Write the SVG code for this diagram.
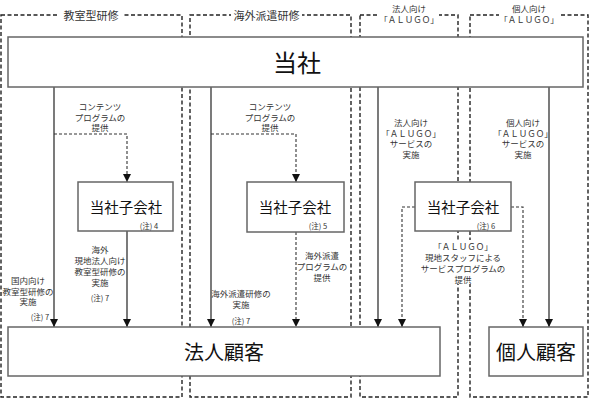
<svg xmlns="http://www.w3.org/2000/svg" width="589" height="399" viewBox="0 0 589 399">
<defs>
<marker id="ah" markerUnits="userSpaceOnUse" markerWidth="8" markerHeight="8" refX="8" refY="4" orient="auto">
<path d="M0,0 L8,4 L0,8 z" fill="#111"/>
</marker>
<style>
.frame{fill:none;stroke:#222;stroke-width:1.4;stroke-dasharray:4 2.5}
.box{fill:#fff;stroke:#666;stroke-width:1.5}
.sol{fill:none;stroke:#222;stroke-width:1.2}
.dsh{fill:none;stroke:#333;stroke-width:1.1;stroke-dasharray:3 2}
text{font-family:"Noto Sans CJK JP","Noto Sans",sans-serif;fill:#222;text-anchor:middle;dominant-baseline:central}
.s{font-size:8.5px;fill:#333}
.n{font-size:7.5px;fill:#333}
.h{font-size:11px;fill:#333}
.big{font-size:24px;fill:#111}
.mid{font-size:20px;fill:#111}
.sub{font-size:14.5px;fill:#111}
.bg{fill:#fff}
</style>
</defs>
<g id="frames">
<rect class="frame" x="1" y="15" width="181" height="382"/>
<rect class="frame" x="190" y="15" width="161" height="382"/>
<rect class="frame" x="360" y="15" width="98" height="382"/>
<rect class="frame" x="470" y="15" width="118" height="382"/>
<rect class="bg" x="58" y="8" width="66" height="14"/>
<text class="h" x="91" y="15">教室型研修</text>
<rect class="bg" x="231" y="8" width="71" height="14"/>
<text class="h" x="266.5" y="15">海外派遣研修</text>
<rect class="bg" x="379" y="1" width="60" height="24"/>
<text class="s" x="409" y="8">法人向け</text>
<text class="s" x="409" y="19">「ＡＬＵＧＯ」</text>
<rect class="bg" x="499" y="1" width="60" height="24"/>
<text class="s" x="529" y="8">個人向け</text>
<text class="s" x="529" y="19">「ＡＬＵＧＯ」</text>
</g>
<g id="connectors">
<line class="sol" x1="54" y1="87" x2="54" y2="327" marker-end="url(#ah)"/>
<path class="dsh" d="M54,134 H127 V182" marker-end="url(#ah)"/>
<line class="sol" x1="127" y1="231" x2="127" y2="327" marker-end="url(#ah)"/>
<line class="sol" x1="211" y1="87" x2="211" y2="327" marker-end="url(#ah)"/>
<path class="dsh" d="M211,134 H296 V182" marker-end="url(#ah)"/>
<line class="dsh" x1="296" y1="232" x2="296" y2="327" marker-end="url(#ah)"/>
<line class="sol" x1="378" y1="87" x2="378" y2="327" marker-end="url(#ah)"/>
<path class="dsh" d="M415,207 H402 V327" marker-end="url(#ah)"/>
<path class="dsh" d="M511,207 H523 V327" marker-end="url(#ah)"/>
<line class="sol" x1="549" y1="87" x2="549" y2="327" marker-end="url(#ah)"/>
</g>
<g id="labels">
<text class="s" x="100" y="106">コンテンツ</text>
<text class="s" x="100" y="116.5">プログラムの</text>
<text class="s" x="100" y="127">提供</text>
<text class="s" x="270" y="106">コンテンツ</text>
<text class="s" x="270" y="116.5">プログラムの</text>
<text class="s" x="270" y="127">提供</text>
<text class="s" x="411" y="122">法人向け</text>
<text class="s" x="411" y="132.5">「ＡＬＵＧＯ」</text>
<text class="s" x="411" y="143">サービスの</text>
<text class="s" x="411" y="153.5">実施</text>
<text class="s" x="523" y="122">個人向け</text>
<text class="s" x="523" y="132.5">「ＡＬＵＧＯ」</text>
<text class="s" x="523" y="143">サービスの</text>
<text class="s" x="523" y="153.5">実施</text>
<text class="s" x="100" y="249">海外</text>
<text class="s" x="100" y="260">現地法人向け</text>
<text class="s" x="100" y="271">教室型研修の</text>
<text class="s" x="100" y="282">実施</text>
<text class="n" x="100" y="297">(注) 7</text>
<text class="s" x="28" y="279.5">国内向け</text>
<text class="s" x="28" y="290.5">教室型研修の</text>
<text class="s" x="28" y="301">実施</text>
<text class="n" x="40" y="316">(注) 7</text>
<text class="s" x="241" y="293">海外派遣研修の</text>
<text class="s" x="241" y="304">実施</text>
<text class="n" x="241" y="320">(注) 7</text>
<text class="s" x="322" y="255">海外派遣</text>
<text class="s" x="322" y="266">プログラムの</text>
<text class="s" x="322" y="277">提供</text>
<rect class="bg" x="419" y="240" width="88" height="44"/>
<text class="s" x="463" y="246">「ＡＬＵＧＯ」</text>
<text class="s" x="463" y="257">現地スタッフによる</text>
<text class="s" x="463" y="267.5">サービスプログラムの</text>
<text class="s" x="463" y="278.5">提供</text>
</g>
<g id="node-company">
<rect class="box" x="8" y="37" width="575" height="50"/>
<text class="big" x="297" y="61">当社</text>
</g>
<g id="node-sub1">
<rect class="box" x="78" y="182" width="95" height="49"/>
<text class="sub" x="126" y="206">当社子会社</text>
<text class="n" x="149" y="225">(注) 4</text>
</g>
<g id="node-sub2">
<rect class="box" x="247" y="182" width="97" height="50"/>
<text class="sub" x="295" y="206">当社子会社</text>
<text class="n" x="318" y="225">(注) 5</text>
</g>
<g id="node-sub3">
<rect class="box" x="415" y="182" width="96" height="49"/>
<text class="sub" x="463" y="206">当社子会社</text>
<text class="n" x="486" y="225">(注) 6</text>
</g>
<g id="node-corp">
<rect class="box" x="8" y="327" width="432" height="49"/>
<text class="mid" x="224" y="351.5">法人顧客</text>
</g>
<g id="node-indiv">
<rect class="box" x="489" y="327" width="94" height="49"/>
<text class="mid" x="536" y="351.5">個人顧客</text>
</g>
</svg>
